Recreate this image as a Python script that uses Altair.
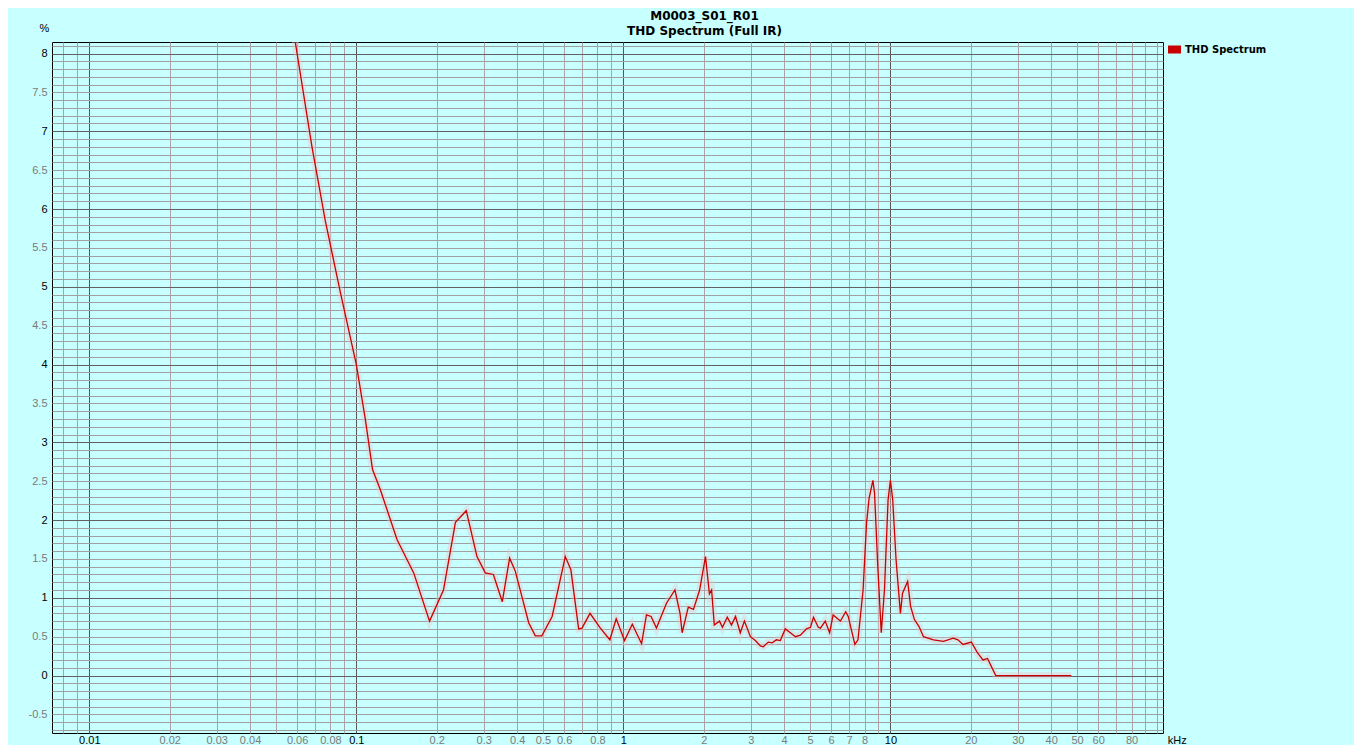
import altair as alt
import pandas as pd

# ---------------- data ----------------
SERIES = "THD Spectrum"
FREQ_KHZ = [
    0.0590, 0.0600, 0.0683, 0.0765, 0.0871, 0.100, 0.108, 0.115, 0.123, 0.142,
    0.164, 0.188, 0.212, 0.235, 0.258, 0.283, 0.304, 0.326, 0.352, 0.375,
    0.394, 0.442, 0.468, 0.495, 0.541, 0.606, 0.636, 0.680, 0.700, 0.750,
    0.820, 0.890, 0.940, 1.01, 1.08, 1.17, 1.22, 1.27, 1.33, 1.45,
    1.56, 1.63, 1.66, 1.75, 1.83, 1.93, 2.03, 2.10, 2.14, 2.19,
    2.29, 2.35, 2.45, 2.54, 2.63, 2.74, 2.84, 2.99, 3.12, 3.26,
    3.34, 3.49, 3.61, 3.74, 3.87, 4.04, 4.22, 4.41, 4.60, 4.85,
    5.02, 5.15, 5.37, 5.47, 5.70, 5.92, 6.10, 6.50, 6.80, 6.95,
    7.36, 7.56, 7.90, 8.14, 8.32, 8.60, 8.72, 8.97, 9.24, 9.50,
    9.80, 10.0, 10.2, 10.5, 10.9, 11.1, 11.6, 11.9, 12.3, 12.8,
    13.3, 14.5, 15.8, 17.2, 17.9, 18.7, 20.1, 21.2, 22.2, 23.1,
    24.8, 47.6,
]
THD_PCT = [
    8.16, 8.00, 6.79, 5.85, 4.93, 4.00, 3.30, 2.65, 2.39, 1.75,
    1.32, 0.70, 1.10, 1.97, 2.12, 1.53, 1.32, 1.30, 0.95, 1.51,
    1.34, 0.68, 0.51, 0.51, 0.76, 1.53, 1.36, 0.60, 0.61, 0.80,
    0.61, 0.46, 0.73, 0.45, 0.66, 0.41, 0.78, 0.76, 0.61, 0.93,
    1.10, 0.80, 0.55, 0.88, 0.85, 1.10, 1.53, 1.05, 1.10, 0.65,
    0.70, 0.62, 0.75, 0.65, 0.76, 0.55, 0.70, 0.50, 0.45, 0.38,
    0.37, 0.43, 0.42, 0.46, 0.45, 0.60, 0.55, 0.50, 0.52, 0.60,
    0.62, 0.75, 0.62, 0.61, 0.70, 0.55, 0.78, 0.70, 0.82, 0.76,
    0.40, 0.46, 1.10, 1.96, 2.28, 2.51, 2.35, 1.40, 0.55, 1.10,
    2.26, 2.51, 2.26, 1.49, 0.80, 1.06, 1.21, 0.89, 0.72, 0.63,
    0.50, 0.46, 0.44, 0.48, 0.46, 0.40, 0.43, 0.29, 0.20, 0.22,
    0.00, 0.00,
]

X_DOMAIN = [0.00725, 104.9]
Y_DOMAIN = [-0.739, 8.148]

X_DARK = [0.01, 0.1, 1, 10]
X_LABELS = [0.01, 0.02, 0.03, 0.04, 0.06, 0.08, 0.1, 0.2, 0.3, 0.4, 0.5, 0.6,
            0.8, 1, 2, 3, 4, 5, 6, 7, 8, 10, 20, 30, 40, 50, 60, 80]
X_GRID = [v for e in range(-3, 3) for k in range(1, 10)
          for v in [round(k * 10 ** e, 6)] if X_DOMAIN[0] <= v <= X_DOMAIN[1]]
Y_GRID = [round(i * 0.1, 1) for i in range(-7, 82)]

df = pd.DataFrame({"freq": FREQ_KHZ, "thd": THD_PCT, "series": SERIES})

BG = "#C8FFFF"
LABEL_FONT = "Liberation Sans"

dark_x = " || ".join(f"datum.value == {v}" for v in X_DARK)
label_list = ",".join(str(v) for v in X_LABELS)
int_y = "abs(datum.value - round(datum.value)) < 1e-6"

x_axis = alt.Axis(
    values=X_GRID,
    grid=True,
    gridColor={"condition": {"test": dark_x, "value": "#555555"}, "value": "#AAA2A6"},
    gridWidth=1,
    domain=False,
    ticks=True,
    tickSize=0,
    labelExpr=f"indexof([{label_list}], datum.value) >= 0 ? '' + datum.value : ''",
    labelColor={"condition": {"test": dark_x, "value": "#000000"}, "value": "#7A7A7A"},
    labelFont=LABEL_FONT,
    labelFontSize=11,
    labelBaseline="middle",
    labelPadding=7,
    labelOverlap=False,
    labelFlush=False,
    title="kHz",
    titleX=1124.7,
    titleY=7,
    titleAlign="center",
    titleBaseline="middle",
    titleFont=LABEL_FONT,
    titleFontSize=11,
    titleFontWeight="normal",
    titleColor="#000000",
)

y_axis = alt.Axis(
    values=Y_GRID,
    grid=True,
    gridColor={"condition": {"test": int_y, "value": "#626262"}, "value": "#A0A0A0"},
    gridWidth=1,
    domain=False,
    ticks=True,
    tickSize=0,
    labelExpr="abs(datum.value * 2 - round(datum.value * 2)) < 1e-6 ? '' + datum.value : ''",
    labelColor={"condition": {"test": int_y, "value": "#000000"}, "value": "#7A7A7A"},
    labelFont=LABEL_FONT,
    labelFontSize=11,
    labelAlign="right",
    labelBaseline="middle",
    labelPadding=5,
    labelOverlap=False,
    labelFlush=False,
    title="%",
    titleAngle=0,
    titleX=-8,
    titleY=-14,
    titleAlign="center",
    titleBaseline="middle",
    titleFont=LABEL_FONT,
    titleFontSize=11,
    titleFontWeight="normal",
    titleColor="#000000",
)

x_scale = alt.Scale(type="log", domain=X_DOMAIN, nice=False)
y_scale = alt.Scale(domain=Y_DOMAIN, nice=False, zero=False)

x_enc = alt.X("freq:Q", scale=x_scale, axis=x_axis)
y_enc = alt.Y("thd:Q", scale=y_scale, axis=y_axis)

halo = alt.Chart(df).mark_line(
    clip=True, color="#E8C4C8", strokeWidth=7, opacity=0.4
).encode(x=x_enc, y=y_enc)

line = alt.Chart(df).mark_line(clip=True, strokeWidth=1.3).encode(
    x=x_enc,
    y=y_enc,
    color=alt.Color(
        "series:N",
        scale=alt.Scale(domain=[SERIES], range=["#C80000"]),
        legend=alt.Legend(
            orient="none",
            legendX=1112,
            legendY=-3,
            title=None,
            padding=0,
            symbolType="stroke",
            symbolSize=169,
            symbolStrokeWidth=8,
            labelFont="DejaVu Sans",
            labelFontWeight="bold",
            labelFontSize=10,
            labelColor="#000000",
            labelOffset=0,
        ),
    ),
)

chart = alt.layer(halo, line).properties(
    width=1111,
    height=691,
    autosize=alt.AutoSizeParams(type="none"),
    padding={"left": 44, "top": 34, "right": 191, "bottom": 12},
    background=BG,
    title=alt.TitleParams(
        text="M0003_S01_R01",
        subtitle="THD Spectrum (Full IR)",
        font="DejaVu Sans",
        fontSize=12,
        fontWeight="bold",
        subtitleFont="DejaVu Sans",
        subtitleFontSize=12,
        subtitleFontWeight="bold",
        color="#000000",
        subtitleColor="#000000",
        anchor="middle",
        dx=97,
        offset=-16,
        subtitlePadding=3,
    ),
).configure_view(
    stroke="#000000", strokeWidth=1, fill=BG
)

chart.save("out.html", embed_options={"renderer": "svg", "actions": False})
